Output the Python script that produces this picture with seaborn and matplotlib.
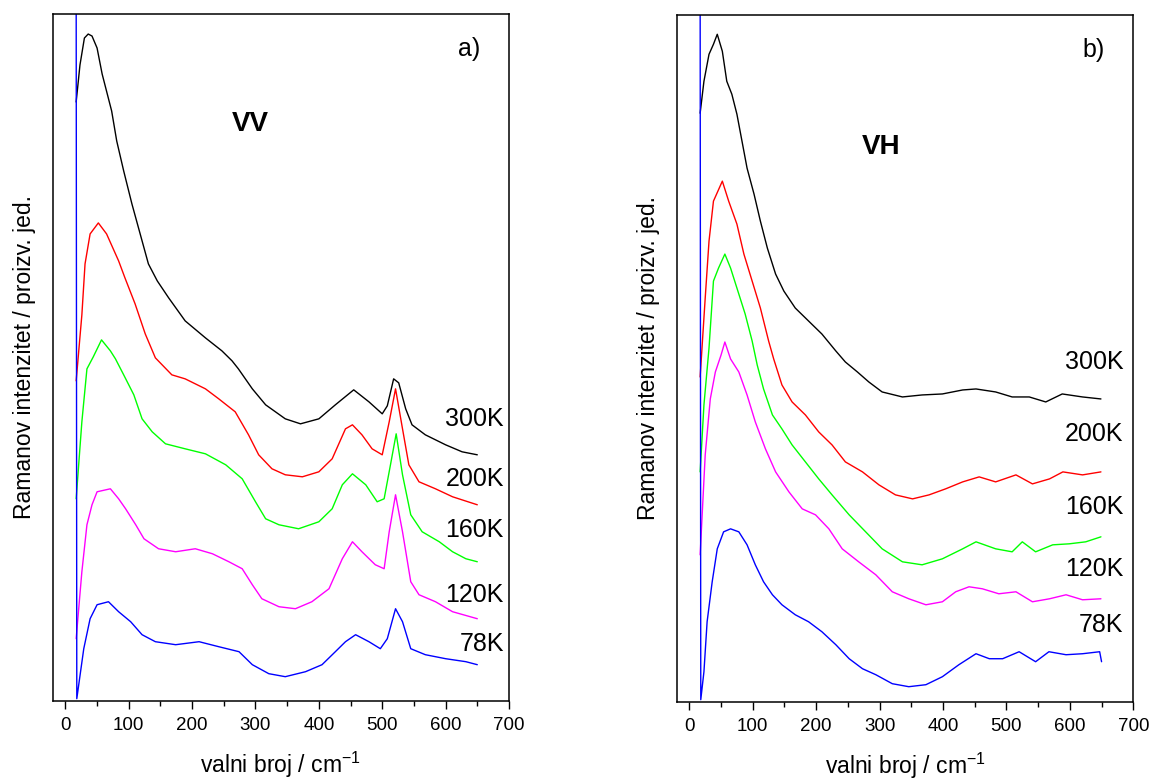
import numpy as np
import pandas as pd
import matplotlib
matplotlib.use("Agg")
import matplotlib.pyplot as plt
import seaborn as sns
from matplotlib.ticker import MultipleLocator

sns.set_style("ticks")
plt.rcParams["font.family"] = ["Liberation Sans", "DejaVu Sans"]
plt.rcParams["mathtext.fontset"] = "custom"
plt.rcParams["mathtext.rm"] = "Liberation Sans"
plt.rcParams["mathtext.default"] = "regular"
plt.rcParams["text.color"] = "black"
plt.rcParams["axes.labelcolor"] = "black"
plt.rcParams["xtick.color"] = "black"
plt.rcParams["xtick.labelcolor"] = "black"

temps = ["300K", "200K", "160K", "120K", "78K"]
colors = ["#000000", "#ff0000", "#00ff00", "#ff00ff", "#0000ff"]

# VV spectra (wavenumber, intensity in arbitrary units)
vv_x_300 = [17, 23, 30, 36, 42, 50, 58, 73, 81, 92, 105, 118, 131, 145, 163, 189, 221, 247, 263, 273,
            295, 316, 347, 371, 400, 426, 455, 479, 500, 508, 518, 526, 537, 547, 568, 600, 626, 650]
vv_y_300 = [599, 636, 663, 667, 665, 653, 627, 590, 560, 530, 497, 467, 437, 420, 403, 380, 363, 350, 340, 332,
            312, 296, 282, 277, 282, 296, 311, 299, 287, 295, 322, 318, 292, 276, 266, 256, 249, 246]
vv_x_200 = [17, 26, 31, 39, 52, 65, 84, 94, 110, 126, 142, 168, 189, 221, 242, 268, 289, 305, 326, 347,
            374, 400, 421, 442, 453, 468, 484, 500, 511, 521, 532, 542, 558, 584, 611, 650]
vv_y_200 = [320, 386, 437, 467, 478, 467, 440, 423, 397, 367, 343, 326, 322, 312, 302, 289, 266, 246, 232, 226,
            224, 229, 242, 272, 276, 266, 252, 246, 279, 312, 272, 236, 219, 212, 204, 196]
vv_x_160 = [17, 26, 34, 44, 57, 71, 79, 92, 108, 121, 137, 158, 189, 221, 253, 279, 300, 316, 337, 368,
            400, 421, 437, 453, 474, 492, 503, 513, 522, 532, 545, 563, 590, 611, 632, 650]
vv_y_160 = [202, 279, 332, 344, 361, 350, 342, 326, 306, 282, 269, 257, 252, 247, 236, 222, 199, 182, 176, 172,
            179, 192, 216, 227, 216, 199, 202, 236, 267, 226, 186, 169, 159, 149, 142, 139]
vv_x_120 = [17, 26, 34, 42, 50, 71, 84, 95, 111, 124, 147, 174, 205, 232, 258, 279, 295, 310, 337, 363,
            389, 416, 437, 453, 468, 489, 503, 511, 521, 532, 545, 558, 584, 611, 650]
vv_y_120 = [62, 129, 176, 196, 209, 212, 202, 192, 176, 162, 152, 149, 152, 147, 139, 132, 116, 102, 94, 92,
            99, 112, 142, 159, 149, 136, 132, 169, 206, 169, 119, 106, 99, 89, 82]
vv_x_78 = [17, 18, 29, 39, 50, 68, 84, 103, 121, 142, 174, 211, 242, 274, 295, 321, 347, 379, 405, 426,
           442, 458, 479, 497, 508, 521, 532, 545, 568, 600, 632, 650]
vv_y_78 = [720, 2, 52, 82, 96, 99, 89, 79, 66, 59, 56, 59, 54, 49, 36, 27, 24, 29, 36, 49,
           59, 66, 59, 52, 62, 92, 79, 52, 46, 42, 39, 36]

# VH spectra
vh_x_300 = [17, 23, 31, 38, 44, 52, 59, 67, 75, 83, 91, 102, 112, 123, 136, 149, 167, 188, 209, 231,
            246, 265, 283, 304, 336, 367, 399, 431, 452, 483, 509, 536, 562, 588, 620, 649]
vh_y_300 = [589, 621, 648, 658, 668, 651, 621, 608, 588, 561, 534, 508, 481, 454, 428, 411, 394, 381, 368, 351,
            340, 330, 320, 310, 305, 307, 308, 312, 313, 310, 305, 305, 300, 308, 305, 303]
vh_x_200 = [17, 25, 31, 38, 52, 62, 75, 86, 99, 112, 125, 133, 146, 162, 183, 204, 225, 246, 273, 299,
            325, 352, 378, 404, 431, 457, 483, 515, 541, 568, 589, 620, 649]
vh_y_200 = [325, 404, 461, 501, 521, 501, 478, 448, 421, 394, 361, 343, 317, 300, 287, 270, 257, 240, 230, 217,
            207, 203, 207, 213, 220, 225, 220, 227, 218, 223, 230, 227, 230]
vh_x_160 = [17, 23, 31, 38, 46, 56, 65, 75, 88, 99, 107, 117, 131, 146, 162, 183, 204, 225, 252, 278,
            304, 336, 367, 399, 431, 452, 483, 509, 525, 546, 573, 599, 625, 649]
vh_y_160 = [230, 297, 354, 421, 434, 448, 434, 414, 388, 361, 337, 313, 287, 273, 257, 240, 223, 207, 187, 170,
            153, 140, 137, 143, 153, 160, 153, 150, 160, 150, 157, 158, 160, 165]
vh_x_120 = [17, 25, 33, 41, 50, 56, 65, 78, 91, 104, 120, 136, 157, 178, 199, 220, 241, 267, 294, 320,
            346, 373, 399, 420, 441, 462, 488, 515, 541, 568, 594, 620, 649]
vh_y_120 = [147, 247, 303, 330, 347, 360, 343, 330, 307, 280, 253, 230, 210, 193, 187, 173, 153, 140, 127, 110,
            103, 97, 100, 110, 115, 113, 108, 110, 100, 103, 107, 102, 103]
vh_x_78 = [17, 18, 23, 28, 36, 44, 54, 65, 78, 91, 104, 117, 131, 146, 167, 188, 209, 231, 252, 273,
           294, 320, 346, 373, 399, 425, 452, 473, 494, 520, 546, 567, 594, 620, 647, 650]
vh_y_78 = [720, 2, 30, 80, 120, 153, 170, 173, 170, 157, 137, 120, 107, 97, 87, 80, 70, 57, 43, 33,
           27, 18, 15, 17, 25, 37, 48, 43, 43, 50, 40, 50, 47, 48, 50, 40]

# label positions (intensity)
vv_label_y = [282, 222, 171, 106, 57]
vh_label_y = [340, 268, 195, 133, 77]


def make_frame(xs, ys):
    parts = []
    for t, x, y in zip(temps, xs, ys):
        parts.append(pd.DataFrame({"x": x, "I": y, "T": t}))
    return pd.concat(parts, ignore_index=True)


vv = make_frame([vv_x_300, vv_x_200, vv_x_160, vv_x_120, vv_x_78],
                [vv_y_300, vv_y_200, vv_y_160, vv_y_120, vv_y_78])
vh = make_frame([vh_x_300, vh_x_200, vh_x_160, vh_x_120, vh_x_78],
                [vh_y_300, vh_y_200, vh_y_160, vh_y_120, vh_y_78])

fig = plt.figure(figsize=(11.51, 7.80), dpi=100)
ax1 = fig.add_axes([0.0458, 0.1017, 0.3964, 0.8803])
ax2 = fig.add_axes([0.5879, 0.1004, 0.3967, 0.8800])

panels = [(ax1, vv, vv_label_y, "a)", "VV", 292, 577, 692),
          (ax2, vh, vh_label_y, "b)", "VH", 303, 555, 684)]

for ax, df, lab_y, tag, pol, px, py, lx in panels:
    sns.lineplot(data=df, x="x", y="I", hue="T", hue_order=temps, palette=colors,
                 estimator=None, sort=False, legend=False, linewidth=1.0, ax=ax)
    ax.set_xlim(-20, 700)
    ax.set_ylim(0, 687)
    ax.set_yticks([])
    ax.set_xticks(range(0, 701, 100))
    ax.xaxis.set_minor_locator(MultipleLocator(50))
    ax.tick_params(axis="x", which="major", length=6, width=1, labelsize=13.5, pad=6, color="black")
    ax.tick_params(axis="x", which="minor", length=3.5, width=1, color="black")
    for s in ax.spines.values():
        s.set_visible(True)
        s.set_linewidth(1.1)
        s.set_color("black")
    ax.set_xlabel("valni broj / cm$^{-1}$", fontsize=16.5, labelpad=11)
    ax.set_ylabel("Ramanov intenzitet / proizv. jed.", fontsize=16.5, labelpad=12)
    for t, y in zip(temps, lab_y):
        ax.text(lx, y, t, ha="right", va="center", fontsize=18)
    ax.text(655, 652, tag, ha="right", va="center", fontsize=18)
    ax.text(px, py, pol, ha="center", va="center", fontsize=20, fontweight="bold")

fig.savefig("out.png", dpi=100)
